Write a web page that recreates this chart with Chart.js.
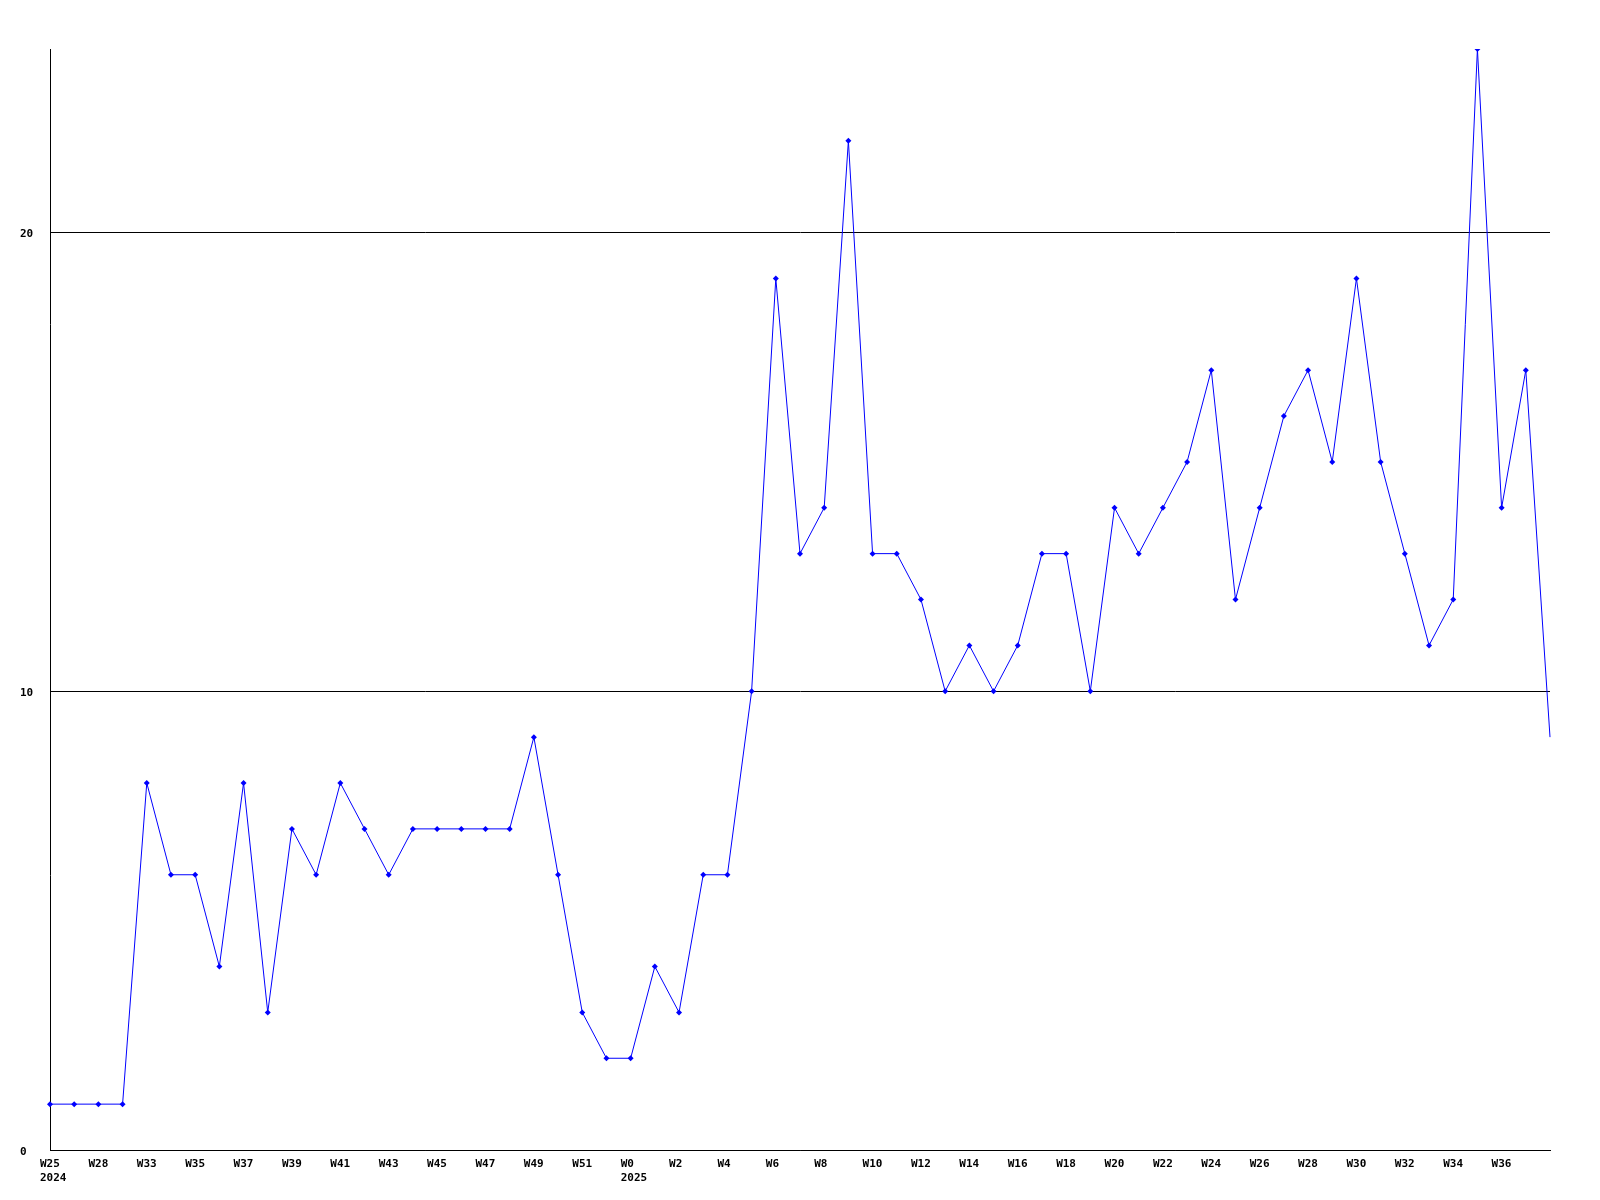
<!DOCTYPE html>
<html>
<head>
<meta charset="utf-8">
<script src="https://cdn.jsdelivr.net/npm/chart.js@4/dist/chart.umd.min.js"></script>
<style>
  body { margin: 0; background: #fff; }
  #wrap { width: 1600px; height: 1200px; }
</style>
</head>
<body>
<div id="wrap"><canvas id="weekly" width="1600" height="1200"></canvas></div>
<script>
// weeks on the x axis (every second one gets a label)
const weeks = ['W25', 'W27', 'W28', 'W32', 'W33', 'W34', 'W35', 'W36', 'W37', 'W38',
  'W39', 'W40', 'W41', 'W42', 'W43', 'W44', 'W45', 'W46', 'W47', 'W48',
  'W49', 'W50', 'W51', 'W52', 'W0', 'W1', 'W2', 'W3', 'W4', 'W5',
  'W6', 'W7', 'W8', 'W9', 'W10', 'W11', 'W12', 'W13', 'W14', 'W15',
  'W16', 'W17', 'W18', 'W19', 'W20', 'W21', 'W22', 'W23', 'W24', 'W25',
  'W26', 'W27', 'W28', 'W29', 'W30', 'W31', 'W32', 'W33', 'W34', 'W35',
  'W36', 'W37', 'W38'];
// year shown under the first week of each year
const years = { 0: '2024', 24: '2025' };

const counts = [1, 1, 1, 1, 8, 6, 6, 4, 8, 3,
  7, 6, 8, 7, 6, 7, 7, 7, 7, 7,
  9, 6, 3, 2, 2, 4, 3, 6, 6, 10,
  19, 13, 14, 22, 13, 13, 12, 10, 11, 10,
  11, 13, 13, 10, 14, 13, 14, 15, 17, 12,
  14, 16, 17, 15, 19, 15, 13, 11, 12, 24,
  14, 17, 9];

const yTicks = [0, 10, 20];

const tickFont = { family: 'DejaVu Sans Mono', size: 11, weight: 'bold', lineHeight: 1.3 };
const last = counts.length - 1;

const ctx = document.getElementById('weekly').getContext('2d');
new Chart(ctx, {
  type: 'line',
  data: {
    labels: weeks,
    datasets: [{
      data: counts,
      borderColor: '#0000ff',
      backgroundColor: '#0000ff',
      borderWidth: 1,
      tension: 0,
      pointStyle: 'rectRot',
      pointRadius: counts.map((v, i) => i === last ? 0 : 3),
      pointBorderWidth: 0,
      fill: false
    }]
  },
  options: {
    responsive: false,
    animation: false,
    layout: { padding: { left: 20, top: 49, right: 50, bottom: 0 } },
    plugins: {
      legend: { display: false },
      tooltip: { enabled: false }
    },
    scales: {
      x: {
        grid: { display: false },
        border: { display: true, color: '#000', width: 1 },
        afterFit: s => { s.height = 50; },
        ticks: {
          autoSkip: false,
          maxRotation: 0,
          align: 'start',
          labelOffset: -10,
          padding: -1,
          color: '#000',
          font: tickFont,
          callback: (v, i) => {
            if (i % 2 || i === last) return '';
            return years[i] ? [weeks[i], years[i]] : weeks[i];
          }
        }
      },
      y: {
        min: 0,
        max: 24,
        afterBuildTicks: s => { s.ticks = yTicks.map(v => ({ value: v })); },
        afterFit: s => { s.width = 30; },
        grid: { color: '#000', lineWidth: 1, drawTicks: false },
        border: { display: true, color: '#000', width: 1 },
        ticks: {
          crossAlign: 'far',
          padding: 0,
          labelOffset: 2,
          color: '#000',
          font: tickFont
        }
      }
    }
  }
});
</script>
</body>
</html>
